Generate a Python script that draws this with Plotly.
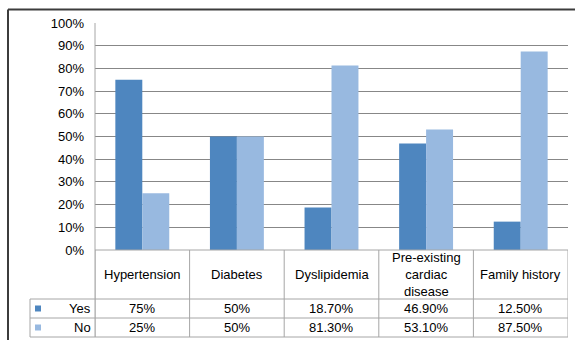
import plotly.graph_objects as go

# Data
categories = ["Hypertension", "Diabetes", "Dyslipidemia",
              "Pre-existing<br>cardiac<br>disease", "Family history"]
yes_values = [75, 50, 18.7, 46.9, 12.5]
no_values = [25, 50, 81.3, 53.1, 87.5]
series_names = ["Yes", "No"]
y_tick_vals = [0, 10, 20, 30, 40, 50, 60, 70, 80, 90, 100]

W, H = 575, 340
YES_COLOR = "#4E86BF"
NO_COLOR = "#98B9E0"
GRID = "#878787"
TABLE = "#A6A6A6"
FONT = "Liberation Sans, Arial, sans-serif"

# Pixel layout of the plot area and data table
PL, PR = 95, 568          # plot left / right
PT, PB = 23, 250          # 100% line / 0% line
ROW_CAT = 299             # bottom of category row
ROW_YES = 318             # bottom of "Yes" row
ROW_NO = 337              # bottom of "No" row
LEG_L = 30                # left edge of legend column


def px(x):
    return x / W


def py(y):
    return 1 - y / H


def fmt(v):
    return f"{v:.0f}%" if float(v).is_integer() else f"{v:.2f}%"


xs = list(range(len(categories)))

fig = go.Figure()
fig.add_bar(x=xs, y=[v / 100 for v in yes_values], name=series_names[0],
            marker=dict(color=YES_COLOR, line=dict(width=0)))
fig.add_bar(x=xs, y=[v / 100 for v in no_values], name=series_names[1],
            marker=dict(color=NO_COLOR, line=dict(width=0)))

shapes = []


def line(x0, y0, x1, y1, color=TABLE, width=1, xref="paper"):
    shapes.append(dict(type="line", xref=xref, yref="paper",
                       x0=x0, y0=y0, x1=x1, y1=y1,
                       line=dict(color=color, width=width)))


# Table grid: horizontal rules
line(px(PL), py(PB), px(PR), py(PB))
for yy in (ROW_CAT, ROW_YES, ROW_NO):
    line(px(LEG_L), py(yy), px(PR), py(yy))
# Table grid: vertical rules at category boundaries
for i in range(len(categories) + 1):
    b = i - 0.5
    line(b, py(PB), b, py(ROW_NO), xref="x")
line(px(PL), py(PT), px(PL), py(ROW_NO))
line(px(LEG_L), py(ROW_CAT), px(LEG_L), py(ROW_NO))

# Outer chart frame
line(px(8), py(9.5), px(8), py(H + 5), color="#3C3C3C", width=2)
line(px(8), py(9.5), px(W + 5), py(9.5), color="#3C3C3C", width=2)

# Legend keys in the table
for yy0, yy1, col in ((ROW_CAT, ROW_YES, YES_COLOR), (ROW_YES, ROW_NO, NO_COLOR)):
    yc = (yy0 + yy1) / 2
    shapes.append(dict(type="rect", xref="paper", yref="paper",
                       x0=px(35), x1=px(41), y0=py(yc - 3), y1=py(yc + 3),
                       fillcolor=col, line=dict(width=0)))

annotations = []
font = dict(family=FONT, size=13, color="#000000")
cat_mid = (PB + ROW_CAT) / 2
yes_mid = (ROW_CAT + ROW_YES) / 2
no_mid = (ROW_YES + ROW_NO) / 2
for i, cat in enumerate(categories):
    annotations.append(dict(x=i, y=py(cat_mid), xref="x", yref="paper",
                            text=cat, showarrow=False, font=font,
                            xanchor="center", yanchor="middle"))
    annotations.append(dict(x=i, y=py(yes_mid), xref="x", yref="paper",
                            text=fmt(yes_values[i]), showarrow=False, font=font,
                            xanchor="center", yanchor="middle"))
    annotations.append(dict(x=i, y=py(no_mid), xref="x", yref="paper",
                            text=fmt(no_values[i]), showarrow=False, font=font,
                            xanchor="center", yanchor="middle"))
for name, mid in zip(series_names, (yes_mid, no_mid)):
    annotations.append(dict(x=px(PL - 2), y=py(mid), xref="paper", yref="paper",
                            text=name, showarrow=False, font=font,
                            xanchor="right", yanchor="middle"))

fig.update_layout(
    width=W, height=H,
    margin=dict(l=0, r=0, t=0, b=0, autoexpand=False),
    paper_bgcolor="white", plot_bgcolor="white",
    barmode="group", bargap=0.43, bargroupgap=0,
    showlegend=False,
    font=font,
    shapes=shapes,
    annotations=annotations,
    xaxis=dict(domain=[px(PL), px(PR)], range=[-0.5, len(categories) - 0.5],
               showticklabels=False, showgrid=False, zeroline=False,
               showline=False, fixedrange=True, automargin=False),
    yaxis=dict(domain=[py(PB), py(PT)], range=[0, 1],
               tickvals=[v / 100 for v in y_tick_vals],
               ticktext=[f"{v}%" for v in y_tick_vals],
               showgrid=True, gridcolor=GRID, gridwidth=1,
               zeroline=False, showline=False, ticks="",
               ticklabelstandoff=10, automargin=False,
               tickfont=font, fixedrange=True),
)

fig.write_html("out.html")
